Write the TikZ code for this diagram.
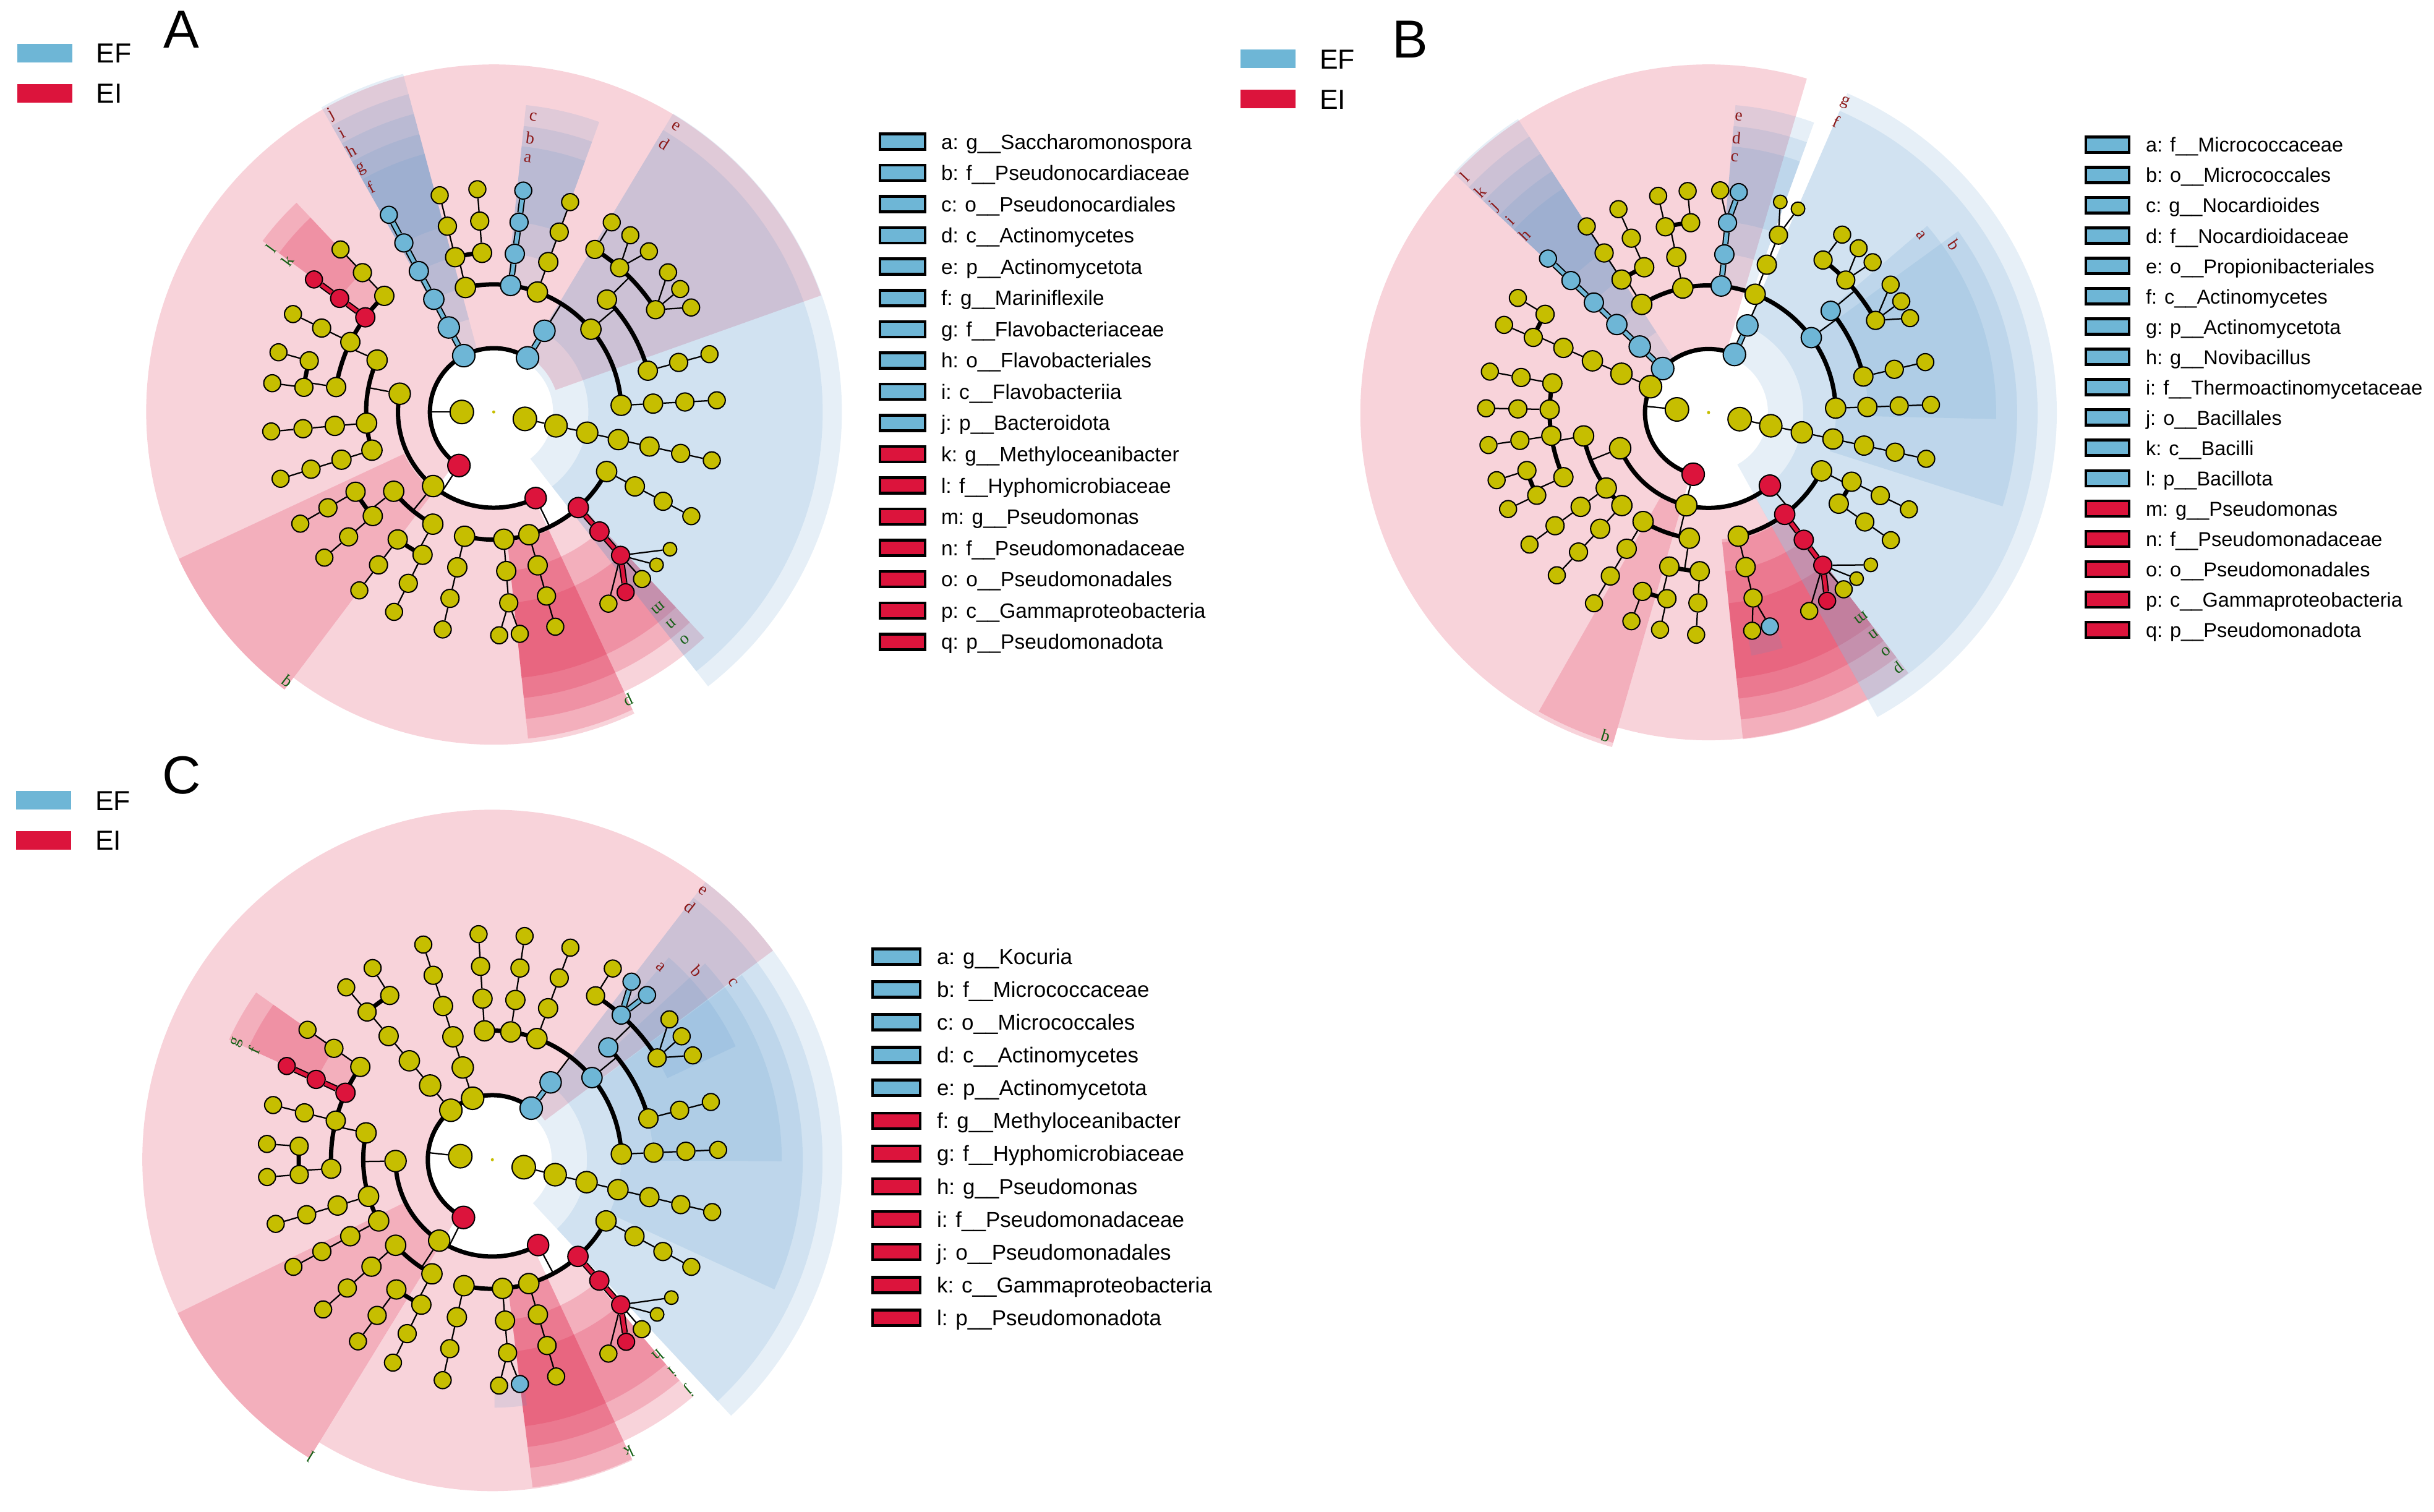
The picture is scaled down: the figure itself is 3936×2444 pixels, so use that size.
\documentclass[tikz,border=0pt]{standalone}
\usepackage{fontspec}
\setmainfont{Liberation Sans}
\newfontfamily\tagfont{Liberation Serif}

\definecolor{efblue}{RGB}{110,182,214}
\definecolor{eired}{RGB}{220,20,60}
\definecolor{nodeyel}{RGB}{198,190,0}
\definecolor{hlred}{RGB}{220,20,60}
\definecolor{hlblue}{RGB}{80,145,200}
\definecolor{tagred}{RGB}{140,25,25}
\definecolor{taggreen}{RGB}{20,95,20}

\pgfdeclarelayer{bg}
\pgfdeclarelayer{edges}
\pgfsetlayers{bg,edges,main}

\tikzset{
  yn/.style={circle, draw=black, line width=0.4pt, fill=nodeyel, inner sep=0pt},
  bn/.style={yn, fill=efblue},
  rn/.style={yn, fill=eired},
  twig/.style={draw=black, line width=0.45pt},
  limbline/.style={draw=black, line width=1.4pt},
  blink/.style={draw=black, line width=0.4pt, double=efblue, double distance=1.2pt},
  rlink/.style={draw=black, line width=0.4pt, double=eired, double distance=1.2pt},
  redhl/.style={fill=hlred, fill opacity=0.19},
  bluehl/.style={fill=hlblue, fill opacity=0.14},
  tagtext/.style={font=\tagfont\fontsize{5.5}{5.5}\selectfont, inner sep=0pt},
  keybox/.style={rectangle, draw=black, line width=0.9pt, minimum height=5pt, inner sep=0pt},
  keytext/.style={inner sep=0pt, anchor=base west},
  grpbox/.style={rectangle, draw=none, minimum width=17.8pt, minimum height=6pt, inner sep=0pt},
  grptext/.style={font=\fontsize{8.9}{8.9}\selectfont, inner sep=0pt, anchor=base west},
  panel/.style={font=\fontsize{17.3}{17.3}\selectfont, inner sep=0pt, anchor=base west}
}

% highlight wedge: style, start angle, end angle, inner radius, outer radius
\newcommand{\clsector}[5]{\begin{pgfonlayer}{bg}\fill[#1] (#2:#4) arc[start angle=#2, end angle=#3, radius=#4] -- (#3:#5) arc[start angle=#3, end angle=#2, radius=#5] -- cycle;\end{pgfonlayer}}
% radial run of clade nodes: name, angle, first level, last level, node style, edge style
\newcommand{\clchain}[6]{%
  \foreach \l in {#3,...,#4}{\node[minimum size={7.6pt-0.35pt*\l}, #5] (#1-\l) at (#2:{\rs*(\l+1)}) {};}%
  \begin{pgfonlayer}{edges}%
  \foreach \l in {#3,...,#4}{\ifnum\l>#3\relax\pgfmathtruncatemacro\k{\l-1}\draw[#6] (#1-\k) -- (#1-\l);\fi}%
  \end{pgfonlayer}}
\newcommand{\clstem}[3]{\begin{pgfonlayer}{edges}\draw[twig] (#1) -- (#2:{\rs*(#3+1)});\end{pgfonlayer}}
\newcommand{\cllimb}[3]{\begin{pgfonlayer}{edges}\draw[limbline] (#1:{\rs*(#3+1)}) arc[start angle=#1, end angle=#2, radius={\rs*(#3+1)}];\end{pgfonlayer}}
\newcommand{\clleaf}[5]{\node[minimum size=5.5pt, #4] (#1) at (#2:{\rs*7}) {};\begin{pgfonlayer}{edges}\draw[#5] (#3) -- (#1);\end{pgfonlayer}}
\newcommand{\cltag}[5]{\node[tagtext, text=#2, rotate={#3-90}] (#1) at (#3:#4) {#5};}

\begin{document}
\begin{tikzpicture}[x=0.2pt,y=0.2pt,yscale=-1]
\useasboundingbox (0,0) rectangle (3936,2444);

% ---------------- panel A ----------------
\node[grpbox, fill=efblue] (A-efbox) at (72.8,85.7) {};
\node[grpbox, fill=eired] (A-eibox) at (72.8,150.5) {};
\node[grptext] (A-eftxt) at (155,101.7) {EF};
\node[grptext] (A-eitxt) at (155,166.5) {EI};
\node[panel] (A-name) at (263,77) {A};

\begin{scope}[shift={(798.4,666.2)}, yscale=-1]
\def\rs{51.6}
\clsector{redhl}{19.6}{233}{106}{562}
\clsector{redhl}{233}{295}{154}{538}
\clsector{redhl}{205}{233}{160}{562}
\clsector{redhl}{276}{295}{211}{531}
\clsector{redhl}{276}{313}{206}{499}
\clsector{redhl}{276}{313}{258}{465}
\clsector{redhl}{276}{313}{310}{432}
\clsector{redhl}{133.3}{143.5}{258}{465}
\clsector{redhl}{133.3}{143.5}{310}{432}
\clsector{bluehl}{-52}{59}{96}{563}
\clsector{bluehl}{-52}{59}{153}{532}
\clsector{bluehl}{70}{84}{206}{499}
\clsector{bluehl}{70}{84}{258}{465}
\clsector{bluehl}{70}{84}{310}{432}
\clsector{bluehl}{105}{119.5}{103}{566}
\clsector{bluehl}{105}{119.5}{155}{532}
\clsector{bluehl}{105}{119.5}{206}{499}
\clsector{bluehl}{105}{119.5}{258}{465}
\clsector{bluehl}{105}{119.5}{310}{432}
\fill[nodeyel] (0,0) circle[radius=2.5];
\cllimb{58}{237}{1}
\clchain{A-k}{180}{0}{0}{yn}{twig}
\clstem{A-k-0}{180}{1}
% Actinomycetota
\clchain{A-e}{58}{1}{2}{bn}{blink}
\clstem{A-e-2}{58}{3}
\cllimb{3}{102.8}{3}
\clchain{A-o1}{102.8}{3}{3}{yn}{twig}
\clstem{A-o1-3}{102.8}{4}
\cllimb{94.2}{104}{4}
\clchain{A-f1}{104}{4}{6}{yn}{twig}
\clchain{A-f2}{94.2}{4}{6}{yn}{twig}
\clchain{A-c}{82.4}{3}{6}{bn}{blink}
\clchain{A-o3}{70}{3}{6}{yn}{twig}
\clchain{A-o4}{40.4}{3}{3}{yn}{twig}
\clstem{A-o4-3}{40.4}{4}
\cllimb{15}{44.8}{4}
\clchain{A-f4}{44.8}{4}{4}{yn}{twig}
\clstem{A-f4-4}{44.8}{5}
\cllimb{32.3}{58.1}{5}
\clchain{A-g1}{58.1}{5}{6}{yn}{twig}
\clchain{A-g2}{48.9}{5}{5}{yn}{twig}
\clleaf{A-s1}{52.3}{A-g2-5}{yn}{twig}
\clleaf{A-s2}{46}{A-g2-5}{yn}{twig}
\clchain{A-g3}{32.3}{5}{5}{yn}{twig}
\clleaf{A-s3}{38.7}{A-g3-5}{yn}{twig}
\clleaf{A-s4}{33.4}{A-g3-5}{yn}{twig}
\clleaf{A-s5}{27.9}{A-g3-5}{yn}{twig}
\clchain{A-f5}{15}{4}{6}{yn}{twig}
\clchain{A-o5}{3}{3}{6}{yn}{twig}
% Bacteroidota
\clchain{A-j}{118}{1}{6}{bn}{blink}
% Pseudomonadota
\clchain{A-q}{237}{1}{1}{rn}{twig}
\clstem{A-q-1}{237}{2}
\cllimb{169}{296}{2}
\clchain{A-c1}{169}{2}{2}{yn}{twig}
\clstem{A-c1-2}{169}{3}
\cllimb{156}{197.4}{3}
\clchain{A-o6}{156}{3}{3}{yn}{twig}
\clstem{A-o6-3}{156}{4}
\cllimb{133.3}{171}{4}
\clchain{A-f6}{133.3}{4}{6}{yn}{twig}
\clchain{A-l}{143.6}{4}{6}{rn}{rlink}
\clchain{A-f7}{154}{4}{6}{yn}{twig}
\clchain{A-f8}{171}{4}{4}{yn}{twig}
\clstem{A-f8-4}{171}{5}
\cllimb{164.5}{172.6}{5}
\clchain{A-g4}{164.5}{5}{6}{yn}{twig}
\clchain{A-g5}{172.6}{5}{6}{yn}{twig}
\clchain{A-o7}{185}{3}{6}{yn}{twig}
\clchain{A-o8}{197.4}{3}{6}{yn}{twig}
\clchain{A-c2}{230.7}{2}{2}{yn}{twig}
\clstem{A-c2-2}{230.7}{3}
\cllimb{218.4}{241.5}{3}
\clchain{A-o9}{218.4}{3}{3}{yn}{twig}
\clstem{A-o9-3}{218.4}{4}
\cllimb{210}{220.7}{4}
\clchain{A-f9}{210}{4}{6}{yn}{twig}
\clchain{A-f10}{220.7}{4}{6}{yn}{twig}
\clchain{A-o10}{241.5}{3}{3}{yn}{twig}
\clstem{A-o10-3}{241.5}{4}
\cllimb{233}{243.5}{4}
\clchain{A-f11}{233}{4}{6}{yn}{twig}
\clchain{A-f12}{243.5}{4}{6}{yn}{twig}
\clchain{A-p}{296}{2}{2}{rn}{twig}
\clstem{A-p-2}{296}{3}
\cllimb{256.8}{332.2}{3}
\clchain{A-o11}{256.8}{3}{6}{yn}{twig}
\clchain{A-o12}{274.5}{3}{5}{yn}{twig}
\clleaf{A-s6}{271.4}{A-o12-5}{yn}{twig}
\clleaf{A-s7}{276.7}{A-o12-5}{yn}{twig}
\clchain{A-o13}{286}{3}{6}{yn}{twig}
\clchain{A-o}{311.5}{3}{5}{rn}{rlink}
\clleaf{A-s8}{306.2}{A-o-5}{rn}{rlink}
\clleaf{A-s9}{322.1}{A-o-5}{yn, minimum size=4.4pt}{twig}
\clleaf{A-s10}{316.8}{A-o-5}{yn, minimum size=4.4pt}{twig}
\clleaf{A-s11}{311.6}{A-o-5}{yn}{twig}
\clleaf{A-s12}{300.9}{A-o-5}{yn}{twig}
\clchain{A-o14}{332.2}{3}{6}{yn}{twig}
\clchain{A-k2}{347.5}{0}{6}{yn}{twig}
% wedge letters
\cltag{A-tj}{tagred}{118.6}{548}{j}
\cltag{A-ti}{tagred}{118.6}{514}{i}
\cltag{A-th}{tagred}{118.6}{481}{h}
\cltag{A-tg}{tagred}{118.6}{447}{g}
\cltag{A-tf}{tagred}{118.6}{414}{f}
\cltag{A-tc}{tagred}{82.4}{481}{c}
\cltag{A-tb}{tagred}{82.4}{447}{b}
\cltag{A-ta}{tagred}{82.4}{414}{a}
\cltag{A-te}{tagred}{57.5}{548}{e}
\cltag{A-td}{tagred}{57.5}{514}{d}
\cltag{A-tl}{taggreen}{143.7}{447}{l}
\cltag{A-tk}{taggreen}{143.7}{414}{k}
\cltag{A-to}{taggreen}{310}{481}{o}
\cltag{A-tn}{taggreen}{310}{447}{n}
\cltag{A-tm}{taggreen}{310}{414}{m}
\cltag{A-tp}{taggreen}{295}{514}{p}
\cltag{A-tq}{taggreen}{232.5}{548}{q}
\end{scope}

\foreach \entry [count=\i] in {a: g\_\_Saccharomonospora, b: f\_\_Pseudonocardiaceae, c: o\_\_Pseudonocardiales, d: c\_\_Actinomycetes, e: p\_\_Actinomycetota, f: g\_\_Mariniflexile, g: f\_\_Flavobacteriaceae, h: o\_\_Flavobacteriales, i: c\_\_Flavobacteriia, j: p\_\_Bacteroidota, k: g\_\_Methyloceanibacter, l: f\_\_Hyphomicrobiaceae, m: g\_\_Pseudomonas, n: f\_\_Pseudomonadaceae, o: o\_\_Pseudomonadales, p: c\_\_Gammaproteobacteria, q: p\_\_Pseudomonadota}{%
  \pgfmathsetmacro\yy{229+50.55*(\i-1)}
  \ifnum\i<11 \def\kc{efblue}\else\def\kc{eired}\fi
  \node[keybox, fill=\kc, minimum width=14.6pt] (A-key\i) at (1459.5,\yy) {};
  \node[keytext, font=\fontsize{6.7}{6.7}\selectfont] (A-txt\i) at (1521,\yy+12) {\entry};
}

% ---------------- panel B ----------------
\node[grpbox, fill=efblue] (B-efbox) at (2050.8,95) {};
\node[grpbox, fill=eired] (B-eibox) at (2050.8,160) {};
\node[grptext] (B-eftxt) at (2133,111) {EF};
\node[grptext] (B-eitxt) at (2133,176) {EI};
\node[panel] (B-name) at (2250,93) {B};

\begin{scope}[shift={(2762.9,667.1)}, yscale=-1]
\def\rs{51.4}
\clsector{redhl}{73.6}{253.9}{106}{563}
\clsector{redhl}{253.9}{299}{154}{530}
\clsector{redhl}{240.4}{253.9}{157}{556}
\clsector{redhl}{276}{307.5}{211}{531}
\clsector{redhl}{276}{307.5}{206}{499}
\clsector{redhl}{276}{307.5}{258}{465}
\clsector{redhl}{276}{307.5}{310}{432}
\clsector{bluehl}{-61}{66.5}{96}{563}
\clsector{bluehl}{-61}{66.5}{153}{532}
\clsector{bluehl}{-17.7}{36}{206}{499}
\clsector{bluehl}{-1.3}{40.5}{258}{465}
\clsector{bluehl}{70}{85}{206}{499}
\clsector{bluehl}{70}{85}{258}{465}
\clsector{bluehl}{70}{85}{310}{432}
\clsector{bluehl}{123}{136.8}{103}{566}
\clsector{bluehl}{123}{136.8}{155}{532}
\clsector{bluehl}{123}{136.8}{206}{499}
\clsector{bluehl}{123}{136.8}{258}{465}
\clsector{bluehl}{123}{136.8}{310}{432}
\clsector{bluehl}{280}{287.5}{350}{399}
\fill[nodeyel] (0,0) circle[radius=2.5];
\cllimb{66}{256}{1}
\clchain{B-k}{174.3}{0}{0}{yn}{twig}
\clstem{B-k-0}{174.3}{1}
% Actinomycetota
\clchain{B-g}{66}{1}{2}{bn}{blink}
\clstem{B-g-2}{66}{3}
\cllimb{2}{121.7}{3}
\clchain{B-o1}{121.7}{3}{3}{yn}{twig}
\clstem{B-o1-3}{121.7}{4}
\cllimb{113.9}{123.2}{4}
\clchain{B-f1}{123.2}{4}{6}{yn}{twig}
\clchain{B-f2}{113.9}{4}{6}{yn}{twig}
\clchain{B-o2}{101.7}{3}{4}{yn}{twig}
\clstem{B-o2-4}{101.7}{5}
\cllimb{95.4}{103.1}{5}
\clchain{B-g1}{103.1}{5}{6}{yn}{twig}
\clchain{B-g2}{95.4}{5}{6}{yn}{twig}
\clchain{B-e}{84.3}{3}{5}{bn}{blink}
\clleaf{B-s1}{82.2}{B-e-5}{bn}{blink}
\clleaf{B-s2}{87}{B-e-5}{yn}{twig}
\clchain{B-o4}{68.5}{3}{5}{yn}{twig}
\clleaf{B-s3}{71.2}{B-o4-5}{yn, minimum size=4.4pt}{twig}
\clleaf{B-s4}{66.3}{B-o4-5}{yn, minimum size=4.4pt}{twig}
\clchain{B-b}{36.1}{3}{3}{bn}{twig}
\clstem{B-b-3}{36.1}{4}
\cllimb{13.1}{39.8}{4}
\clchain{B-a}{39.8}{4}{4}{bn}{twig}
\clstem{B-a-4}{39.8}{5}
\cllimb{28.9}{53.1}{5}
\clchain{B-g3}{53.1}{5}{6}{yn}{twig}
\clchain{B-g4}{44}{5}{5}{yn}{twig}
\clleaf{B-s5}{47.6}{B-g4-5}{yn}{twig}
\clleaf{B-s6}{42.5}{B-g4-5}{yn}{twig}
\clchain{B-g5}{28.9}{5}{5}{yn}{twig}
\clleaf{B-s7}{35.1}{B-g5-5}{yn}{twig}
\clleaf{B-s8}{30}{B-g5-5}{yn}{twig}
\clleaf{B-s9}{25.1}{B-g5-5}{yn}{twig}
\clchain{B-f5}{13.1}{4}{6}{yn}{twig}
\clchain{B-o6}{2}{3}{6}{yn}{twig}
% Bacillota
\clchain{B-l}{136.2}{1}{6}{bn}{blink}
\clchain{B-y}{156}{1}{4}{yn}{twig}
\clstem{B-y-4}{156}{5}
\cllimb{149}{156.8}{5}
\clchain{B-g6}{156.8}{5}{6}{yn}{twig}
\clchain{B-g7}{149}{5}{6}{yn}{twig}
% Pseudomonadota
\clchain{B-q}{256}{1}{1}{rn}{twig}
\clstem{B-q-1}{256}{2}
\cllimb{202}{310}{2}
\clchain{B-c1}{202}{2}{2}{yn}{twig}
\clstem{B-c1-2}{202}{3}
\cllimb{190.6}{227}{3}
\clchain{B-o7}{190.6}{3}{3}{yn}{twig}
\clstem{B-o7-3}{190.6}{4}
\cllimb{169.4}{204}{4}
\clchain{B-f6}{169.4}{4}{6}{yn}{twig}
\clchain{B-f7}{178.9}{4}{6}{yn}{twig}
\clchain{B-f8}{188.4}{4}{6}{yn}{twig}
\clchain{B-f9}{204}{4}{4}{yn}{twig}
\clstem{B-f9-4}{204}{5}
\cllimb{197.7}{205.7}{5}
\clchain{B-g8}{197.7}{5}{6}{yn}{twig}
\clchain{B-g9}{205.7}{5}{6}{yn}{twig}
\clchain{B-o8}{216.4}{3}{6}{yn}{twig}
\clchain{B-o9}{227}{3}{6}{yn}{twig}
\clchain{B-c2}{256.5}{2}{2}{yn}{twig}
\clstem{B-c2-2}{256.5}{3}
\cllimb{239}{261.3}{3}
\clchain{B-o10}{239}{3}{6}{yn}{twig}
\clchain{B-o11}{261.3}{3}{3}{yn}{twig}
\clstem{B-o11-3}{261.3}{4}
\cllimb{255.7}{266.8}{4}
\clchain{B-f10}{255.7}{4}{4}{yn}{twig}
\clstem{B-f10-4}{255.7}{5}
\cllimb{249.7}{257.4}{5}
\clchain{B-g10}{249.7}{5}{6}{yn}{twig}
\clchain{B-g11}{257.4}{5}{6}{yn}{twig}
\clchain{B-f11}{266.8}{4}{6}{yn}{twig}
\clchain{B-p}{310}{2}{2}{rn}{twig}
\clstem{B-p-2}{310}{3}
\cllimb{284.3}{332.7}{3}
\clchain{B-o12}{283.5}{3}{5}{yn}{twig}
\clleaf{B-s10}{281.3}{B-o12-5}{yn}{twig}
\clleaf{B-s11}{286}{B-o12-5}{bn}{twig}
\clchain{B-o}{306.8}{3}{5}{rn}{rlink}
\clleaf{B-s12}{302.2}{B-o-5}{rn}{rlink}
\clleaf{B-s13}{316.8}{B-o-5}{yn, minimum size=4.4pt}{twig}
\clleaf{B-s14}{311.7}{B-o-5}{yn, minimum size=4.4pt}{twig}
\clleaf{B-s15}{307.4}{B-o-5}{yn}{twig}
\clleaf{B-s16}{296.9}{B-o-5}{yn}{twig}
\clchain{B-o13}{332.7}{3}{3}{yn}{twig}
\clstem{B-o13-3}{332.7}{4}
\cllimb{324.9}{334.2}{4}
\clchain{B-f12}{334.2}{4}{6}{yn}{twig}
\clchain{B-f13}{325}{4}{6}{yn}{twig}
\clchain{B-k2}{348}{0}{6}{yn}{twig}
% wedge letters
\cltag{B-tl}{tagred}{136}{548}{l}
\cltag{B-tk}{tagred}{136}{514}{k}
\cltag{B-tj}{tagred}{136}{481}{j}
\cltag{B-ti}{tagred}{136}{447}{i}
\cltag{B-th}{tagred}{136}{414}{h}
\cltag{B-te}{tagred}{84.2}{481}{e}
\cltag{B-td}{tagred}{84.2}{447}{d}
\cltag{B-tc}{tagred}{84.2}{414}{c}
\cltag{B-tg}{tagred}{66.3}{548}{g}
\cltag{B-tf}{tagred}{66.3}{514}{f}
\cltag{B-ta}{tagred}{39.9}{447}{a}
\cltag{B-tb}{tagred}{34.3}{481}{b}
\cltag{B-tp}{taggreen}{306.6}{514}{p}
\cltag{B-to}{taggreen}{306.6}{481}{o}
\cltag{B-tn}{taggreen}{306.6}{447}{n}
\cltag{B-tm}{taggreen}{306.6}{414}{m}
\cltag{B-tq}{taggreen}{252.4}{548}{q}
\end{scope}

\foreach \entry [count=\i] in {a: f\_\_Micrococcaceae, b: o\_\_Micrococcales, c: g\_\_Nocardioides, d: f\_\_Nocardioidaceae, e: o\_\_Propionibacteriales, f: c\_\_Actinomycetes, g: p\_\_Actinomycetota, h: g\_\_Novibacillus, i: f\_\_Thermoactinomycetaceae, j: o\_\_Bacillales, k: c\_\_Bacilli, l: p\_\_Bacillota, m: g\_\_Pseudomonas, n: f\_\_Pseudomonadaceae, o: o\_\_Pseudomonadales, p: c\_\_Gammaproteobacteria, q: p\_\_Pseudomonadota}{%
  \pgfmathsetmacro\yy{233.9+49.03*(\i-1)}
  \ifnum\i<13 \def\kc{efblue}\else\def\kc{eired}\fi
  \node[keybox, fill=\kc, minimum width=14pt] (B-key\i) at (3408,\yy) {};
  \node[keytext, font=\fontsize{6.5}{6.5}\selectfont] (B-txt\i) at (3469,\yy+12) {\entry};
}

% ---------------- panel C ----------------
\node[grpbox, fill=efblue] (C-efbox) at (70.5,1294) {};
\node[grpbox, fill=eired] (C-eibox) at (70.5,1358.5) {};
\node[grptext] (C-eftxt) at (153,1310) {EF};
\node[grptext] (C-eitxt) at (153,1374.5) {EI};
\node[panel] (C-name) at (261,1283) {C};

\begin{scope}[shift={(796.2,1875.3)}, yscale=-1]
\def\rs{52.2}
\clsector{redhl}{36.7}{238.5}{106}{566}
\clsector{redhl}{238.5}{295}{154}{536}
\clsector{redhl}{206}{238.5}{160}{566}
\clsector{redhl}{277}{295}{211}{534}
\clsector{redhl}{277}{310.3}{208}{502}
\clsector{redhl}{277}{310.3}{260}{468}
\clsector{redhl}{277}{310.3}{312}{434}
\clsector{redhl}{144.7}{155.5}{260}{468}
\clsector{redhl}{144.7}{155.5}{312}{434}
\clsector{bluehl}{-47}{52.5}{96}{566}
\clsector{bluehl}{-47}{52.5}{153}{534}
\clsector{bluehl}{-24.7}{36.5}{208}{502}
\clsector{bluehl}{-0.3}{42.7}{260}{468}
\clsector{bluehl}{25}{48.9}{312}{434}
\clsector{bluehl}{270.5}{278}{362}{401}
\fill[nodeyel] (0,0) circle[radius=2.5];
\cllimb{53}{243.4}{1}
\clchain{C-k}{173.7}{0}{0}{yn}{twig}
\clstem{C-k-0}{173.7}{1}
% Actinomycetota
\clchain{C-e}{53}{1}{2}{bn}{blink}
\clstem{C-e-2}{53}{3}
\cllimb{2.5}{93.5}{3}
\clchain{C-o1}{93.5}{3}{6}{yn}{twig}
\clchain{C-o2}{81.8}{3}{6}{yn}{twig}
\clchain{C-o3}{69.8}{3}{6}{yn}{twig}
\clchain{C-c}{39.5}{3}{3}{bn}{twig}
\clstem{C-c-3}{39.5}{4}
\cllimb{14.8}{44.1}{4}
\clchain{C-b}{44.1}{4}{4}{bn}{twig}
\clstem{C-b-4}{44.1}{5}
\cllimb{31.7}{57.8}{5}
\clchain{C-g1}{57.8}{5}{6}{yn}{twig}
\clchain{C-a}{48.3}{5}{5}{bn}{twig}
\clleaf{C-s1}{52}{C-a-5}{bn}{blink}
\clleaf{C-s2}{46.8}{C-a-5}{bn}{blink}
\clchain{C-g2}{31.7}{5}{5}{yn}{twig}
\clleaf{C-s3}{38.4}{C-g2-5}{yn}{twig}
\clleaf{C-s4}{33.1}{C-g2-5}{yn}{twig}
\clleaf{C-s5}{27.5}{C-g2-5}{yn}{twig}
\clchain{C-f1}{14.8}{4}{6}{yn}{twig}
\clchain{C-o4}{2.5}{3}{6}{yn}{twig}
\clchain{C-y1}{107.8}{1}{6}{yn}{twig}
\clchain{C-y2}{130}{1}{4}{yn}{twig}
\clstem{C-y2-4}{130}{5}
\cllimb{122}{130.3}{5}
\clchain{C-g3}{130.3}{5}{6}{yn}{twig}
\clchain{C-g4}{122}{5}{6}{yn}{twig}
% Pseudomonadota
\clchain{C-q}{243.4}{1}{1}{rn}{twig}
\clstem{C-q-1}{243.4}{2}
\cllimb{180.8}{298.2}{2}
\clchain{C-c1}{180.8}{2}{2}{yn}{twig}
\clstem{C-c1-2}{180.8}{3}
\cllimb{168}{208.4}{3}
\clchain{C-o5}{168}{3}{3}{yn}{twig}
\clstem{C-o5-3}{168}{4}
\cllimb{144.9}{183.2}{4}
\clchain{C-f2}{144.9}{4}{6}{yn}{twig}
\clchain{C-g}{155.5}{4}{6}{rn}{rlink}
\clchain{C-f3}{166}{4}{6}{yn}{twig}
\clchain{C-f4}{183.2}{4}{4}{yn}{twig}
\clstem{C-f4-4}{183.2}{5}
\cllimb{176}{184.4}{5}
\clchain{C-g5}{176}{5}{6}{yn}{twig}
\clchain{C-g6}{184.4}{5}{6}{yn}{twig}
\clchain{C-o6}{196.5}{3}{6}{yn}{twig}
\clchain{C-o7}{208.3}{3}{6}{yn}{twig}
\clchain{C-c2}{236.7}{2}{2}{yn}{twig}
\clstem{C-c2-2}{236.7}{3}
\cllimb{221.5}{242.1}{3}
\clchain{C-o8}{221.5}{3}{6}{yn}{twig}
\clchain{C-o9}{242.1}{3}{3}{yn}{twig}
\clstem{C-o9-3}{242.1}{4}
\cllimb{233.5}{243.9}{4}
\clchain{C-f5}{233.5}{4}{6}{yn}{twig}
\clchain{C-f6}{243.9}{4}{6}{yn}{twig}
\clchain{C-p}{298.2}{2}{2}{rn}{twig}
\clstem{C-p-2}{298.2}{3}
\cllimb{257.3}{331.8}{3}
\clchain{C-o10}{257.3}{3}{6}{yn}{twig}
\clchain{C-o11}{274.5}{3}{5}{yn}{twig}
\clleaf{C-s6}{271.7}{C-o11-5}{yn}{twig}
\clleaf{C-s7}{277}{C-o11-5}{bn}{twig}
\clchain{C-o12}{286.4}{3}{6}{yn}{twig}
\clchain{C-j}{311.5}{3}{5}{rn}{rlink}
\clleaf{C-s8}{306.3}{C-j-5}{rn}{rlink}
\clleaf{C-s9}{322.4}{C-j-5}{yn, minimum size=4.4pt}{twig}
\clleaf{C-s10}{316.8}{C-j-5}{yn, minimum size=4.4pt}{twig}
\clleaf{C-s11}{311.4}{C-j-5}{yn}{twig}
\clleaf{C-s12}{300.9}{C-j-5}{yn}{twig}
\clchain{C-o13}{331.7}{3}{6}{yn}{twig}
\clchain{C-k2}{346.6}{0}{6}{yn}{twig}
% wedge letters
\cltag{C-te}{tagred}{52}{552}{e}
\cltag{C-td}{tagred}{52}{519}{d}
\cltag{C-ta}{tagred}{48.9}{414}{a}
\cltag{C-tb}{tagred}{42.7}{450}{b}
\cltag{C-tc}{tagred}{36.4}{483}{c}
\cltag{C-tg}{taggreen}{155.3}{455}{g}
\cltag{C-tf}{taggreen}{155.3}{424}{f}
\cltag{C-tj}{taggreen}{310.3}{490}{j}
\cltag{C-ti}{taggreen}{310.3}{450}{i}
\cltag{C-th}{taggreen}{310.3}{415}{h}
\cltag{C-tk}{taggreen}{295}{522}{k}
\cltag{C-tl}{taggreen}{238.5}{563}{l}
\end{scope}

\foreach \entry [count=\i] in {a: g\_\_Kocuria, b: f\_\_Micrococcaceae, c: o\_\_Micrococcales, d: c\_\_Actinomycetes, e: p\_\_Actinomycetota, f: g\_\_Methyloceanibacter, g: f\_\_Hyphomicrobiaceae, h: g\_\_Pseudomonas, i: f\_\_Pseudomonadaceae, j: o\_\_Pseudomonadales, k: c\_\_Gammaproteobacteria, l: p\_\_Pseudomonadota}{%
  \pgfmathsetmacro\yy{1546.8+53.1*(\i-1)}
  \ifnum\i<6 \def\kc{efblue}\else\def\kc{eired}\fi
  \node[keybox, fill=\kc, minimum width=15.4pt] (C-key\i) at (1449.5,\yy) {};
  \node[keytext, font=\fontsize{7}{7}\selectfont] (C-txt\i) at (1514,\yy+12.5) {\entry};
}
\end{tikzpicture}
\end{document}
